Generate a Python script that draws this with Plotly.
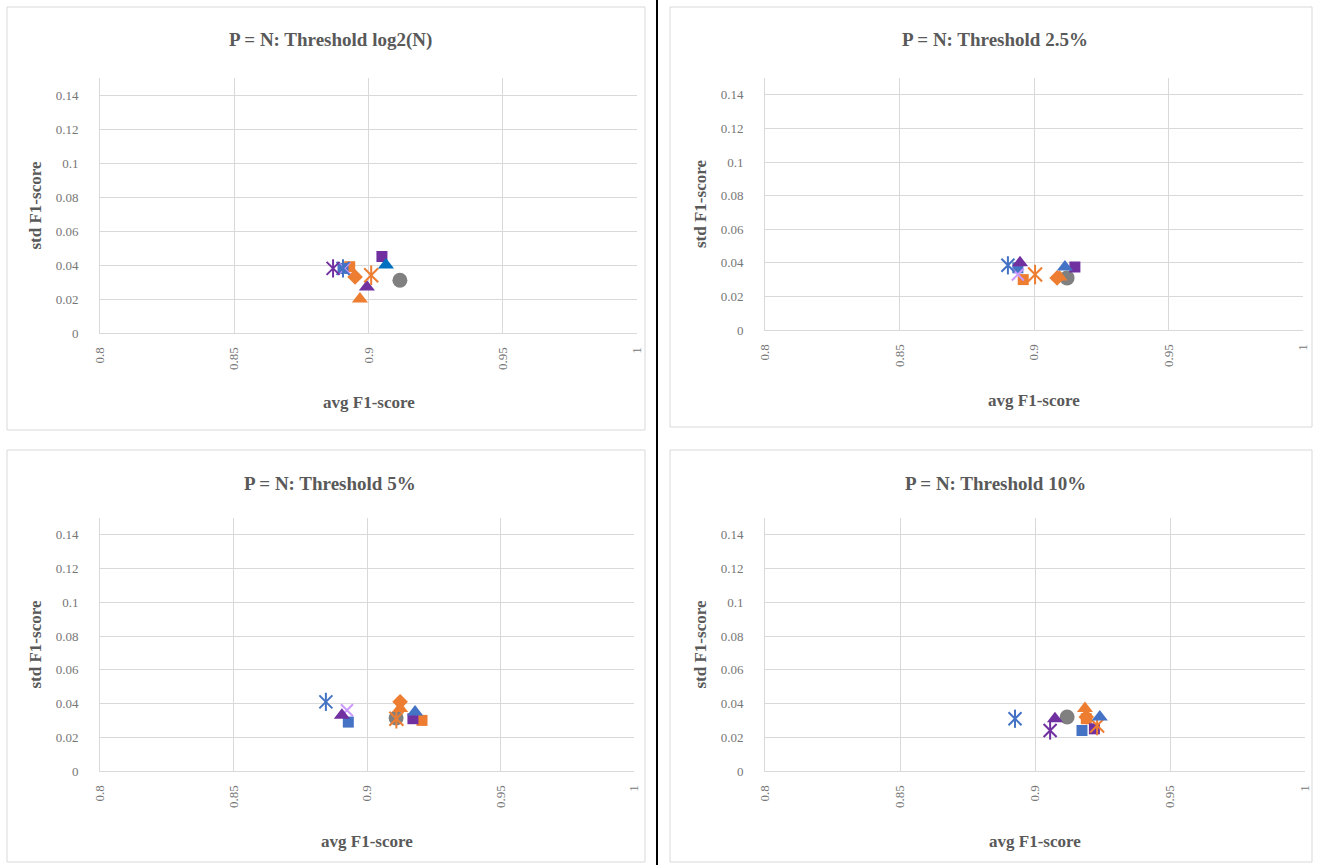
import plotly.graph_objects as go

# ---------------- data ----------------
panel_titles = ["P = N: Threshold log2(N)", "P = N: Threshold 2.5%",
                "P = N: Threshold 5%", "P = N: Threshold 10%"]
x_title = "avg F1-score"
y_title = "std F1-score"
x_ticks = [0.8, 0.85, 0.9, 0.95, 1.0]
x_tick_labels = ["0.8", "0.85", "0.9", "0.95", "1"]
y_ticks = [0, 0.02, 0.04, 0.06, 0.08, 0.1, 0.12, 0.14]
y_tick_labels = ["0", "0.02", "0.04", "0.06", "0.08", "0.1", "0.12", "0.14"]

series_names = ["S1", "S2", "S3", "S4", "S5", "S6", "S6b", "S7", "S8", "S9", "S10", "S11", "S12"]

# avg F1 per panel (log2N, 2.5%, 5%, 10%), None = not visible
avg_f1 = {
    "S1":  [0.9117, 0.9123, 0.9109, 0.9119],
    "S2":  [0.8930, 0.8960, 0.9206, 0.9190],
    "S3":  [0.8905, 0.8940, 0.8930, 0.9174],
    "S4":  [0.9050, 0.9152, 0.9172, 0.9220],
    "S5":  [0.8968, 0.9095, 0.9124, 0.9185],
    "S6":  [None,   0.9115, 0.9180, 0.9240],
    "S6b": [0.9065, None,   None,   None],
    "S7":  [0.8994, 0.8948, 0.8906, 0.9074],
    "S8":  [0.8950, 0.9086, 0.9124, 0.9190],
    "S9":  [0.8905, 0.8903, 0.8846, 0.8926],
    "S10": [0.8868, None,   None,   0.9056],
    "S11": [0.9010, 0.9004, 0.9110, 0.9230],
    "S12": [0.8910, 0.8940, 0.8925, None],
}
std_f1 = {
    "S1":  [0.031, 0.031, 0.0314, 0.032],
    "S2":  [0.039, 0.030, 0.030, 0.031],
    "S3":  [0.038, 0.037, 0.029, 0.024],
    "S4":  [0.045, 0.0375, 0.031, 0.025],
    "S5":  [0.020, 0.0315, 0.037, 0.037],
    "S6":  [None, 0.0375, 0.035, 0.032],
    "S6b": [0.040, None, None, None],
    "S7":  [0.027, 0.040, 0.033, 0.031],
    "S8":  [0.033, 0.031, 0.041, 0.032],
    "S9":  [0.038, 0.0385, 0.041, 0.031],
    "S10": [0.038, None, None, 0.024],
    "S11": [0.034, 0.033, 0.031, 0.027],
    "S12": [0.038, 0.033, 0.036, None],
}

# ---------------- styles ----------------
ORANGE, BLUE, PURPLE, GRAY, LAV, DBLUE = "#ED7D31", "#4472C4", "#7030A0", "#808080", "#CC99FF", "#0070C0"
style = {
    "S1":  ("circle", GRAY, 15),
    "S2":  ("square", ORANGE, 11),
    "S3":  ("square", BLUE, 11),
    "S4":  ("square", PURPLE, 11),
    "S5":  ("triangle-up", ORANGE, 14),
    "S6":  ("triangle-up", BLUE, 14),
    "S6b": ("triangle-up", DBLUE, 14),
    "S7":  ("triangle-up", PURPLE, 14),
    "S8":  ("diamond", ORANGE, 12),
    "S9":  ("star6", BLUE, 13),
    "S10": ("star6", PURPLE, 13),
    "S11": ("star6", ORANGE, 14),
    "S12": ("x", LAV, 12),
}
draw_order = ["S1", "S2", "S3", "S12", "S4", "S5", "S7", "S8", "S9", "S10", "S11", "S6", "S6b"]

W, H = 1319, 865
# plot areas in pixels: (x0, x1, ytop, ybottom)
areas = [(100, 637, 78, 333), (765, 1303, 78, 330), (100, 634, 518, 771), (765, 1305, 518, 771)]
boxes = [(7, 7, 645, 430), (670, 7, 1312, 427), (7, 450, 645, 862), (670, 450, 1312, 862)]
FONT = "Liberation Serif"
TXT = "#595959"
TICK = "#767676"
GRID = "#D9D9D9"

fig = go.Figure()
layout = dict(width=W, height=H, margin=dict(l=0, r=0, t=0, b=0, autoexpand=False),
              paper_bgcolor="white", plot_bgcolor="white", showlegend=False,
              font=dict(family=FONT, color=TXT))
annotations = []
shapes = []

for p in range(4):
    x0, x1, yt, yb = areas[p]
    xa = "xaxis" if p == 0 else f"xaxis{p+1}"
    ya = "yaxis" if p == 0 else f"yaxis{p+1}"
    xref = "x" if p == 0 else f"x{p+1}"
    yref = "y" if p == 0 else f"y{p+1}"
    layout[xa] = dict(domain=[x0 / W, x1 / W], range=[0.8, 1.0], anchor=yref,
                      tickvals=x_ticks, ticktext=x_tick_labels, tickangle=-90,
                      showgrid=True, gridcolor=GRID, zeroline=False, automargin=False,
                      showline=True, linecolor=GRID, ticks="",
                      tickfont=dict(family=FONT, size=13, color=TICK), ticklabelstandoff=8)
    layout[ya] = dict(domain=[1 - yb / H, 1 - yt / H], range=[0, 0.15], anchor=xref,
                      tickvals=y_ticks, ticktext=y_tick_labels, automargin=False,
                      showgrid=True, gridcolor=GRID, zeroline=False,
                      showline=True, linecolor=GRID, ticks="",
                      tickfont=dict(family=FONT, size=13, color=TICK), ticklabelstandoff=18)
    bx0, by0, bx1, by1 = boxes[p]
    shapes.append(dict(type="rect", xref="paper", yref="paper",
                       x0=bx0 / W, x1=bx1 / W, y0=1 - by1 / H, y1=1 - by0 / H,
                       line=dict(color=GRID, width=1), layer="below"))
    cx = (bx0 + bx1) / 2 + 4
    annotations.append(dict(text=f"<b>{panel_titles[p]}</b>", xref="paper", yref="paper",
                            x=cx / W, y=1 - (by0 + 33) / H, showarrow=False,
                            xanchor="center", yanchor="middle",
                            font=dict(family=FONT, size=19, color=TXT)))
    annotations.append(dict(text=f"<b>{x_title}</b>", xref="paper", yref="paper",
                            x=(x0 + x1) / 2 / W, y=1 - (yb + 70) / H, showarrow=False,
                            xanchor="center", yanchor="middle",
                            font=dict(family=FONT, size=17, color=TXT)))
    annotations.append(dict(text=f"<b>{y_title}</b>", xref="paper", yref="paper",
                            x=(x0 - 65) / W, y=1 - (yt + yb) / 2 / H, showarrow=False,
                            xanchor="center", yanchor="middle",
                            textangle=-90, font=dict(family=FONT, size=17, color=TXT)))

    for s in draw_order:
        sym, col, size = style[s]
        xs = [avg_f1[s][p]]
        ys = [std_f1[s][p]]
        if xs[0] is None:
            continue
        if sym == "star6":
            for sub in ("x-thin-open", "line-ns-open"):
                fig.add_trace(go.Scatter(x=xs, y=ys, mode="markers", xaxis=xref, yaxis=yref,
                                         name=s, marker=dict(symbol=sub, size=size, color=col,
                                                             line=dict(color=col, width=2))))
        elif sym == "x":
            fig.add_trace(go.Scatter(x=xs, y=ys, mode="markers", xaxis=xref, yaxis=yref,
                                     name=s, marker=dict(symbol="x-thin-open", size=size, color=col,
                                                         line=dict(color=col, width=2))))
        else:
            fig.add_trace(go.Scatter(x=xs, y=ys, mode="markers", xaxis=xref, yaxis=yref,
                                     name=s, marker=dict(symbol=sym, size=size, color=col,
                                                         line=dict(width=0))))

# black separator
shapes.append(dict(type="line", xref="paper", yref="paper", x0=657 / W, x1=657 / W,
                   y0=0, y1=1, line=dict(color="black", width=2)))

layout["annotations"] = annotations
layout["shapes"] = shapes
fig.update_layout(**layout)
fig.write_html("out.html", config={"displayModeBar": False},
               post_script="document.body.style.margin='0';document.body.style.overflow='hidden';")
